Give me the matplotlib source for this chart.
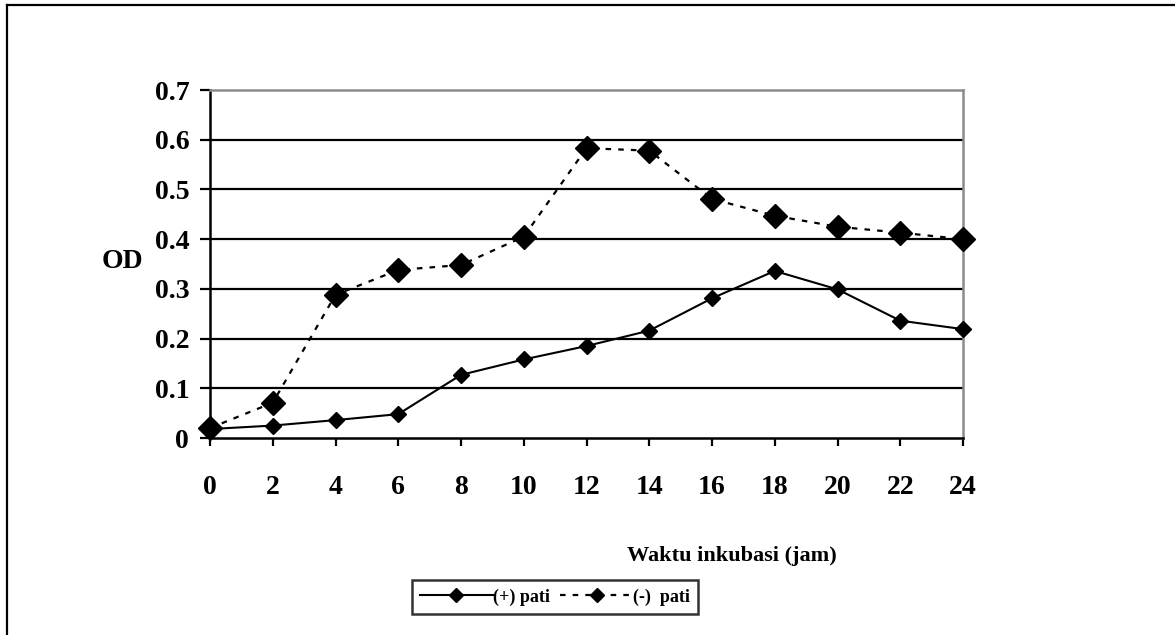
import matplotlib
matplotlib.use("Agg")
import matplotlib.pyplot as plt
from matplotlib.lines import Line2D

# Data
waktu = [0, 2, 4, 6, 8, 10, 12, 14, 16, 18, 20, 22, 24]
pati_plus = [0.018, 0.025, 0.036, 0.048, 0.127, 0.158, 0.185, 0.216, 0.281, 0.336, 0.299, 0.236, 0.219]
pati_minus = [0.020, 0.071, 0.288, 0.338, 0.348, 0.405, 0.583, 0.578, 0.481, 0.447, 0.425, 0.413, 0.400]
label_plus = "(+) pati"
label_minus = "(-)  pati"
yticks = [0, 0.1, 0.2, 0.3, 0.4, 0.5, 0.6, 0.7]
ytick_labels = ["0", "0.1", "0.2", "0.3", "0.4", "0.5", "0.6", "0.7"]
xticks = waktu

plt.rcParams['font.family'] = ['Liberation Serif', 'DejaVu Serif']
plt.rcParams['font.weight'] = 'bold'

fig = plt.figure(figsize=(11.75, 6.35), dpi=100)
ax = fig.add_axes([210/1175, 1 - 438/635, (963 - 210)/1175, (438 - 90)/635])

for y in yticks[1:-1]:
    ax.axhline(y, color='black', lw=1.6, zorder=1)

ax.plot(waktu, pati_plus, color='black', lw=1.5, marker='D', markersize=8.5,
        zorder=3, clip_on=False, label=label_plus)
ax.plot(waktu, pati_minus, color='black', lw=1.6, linestyle=(0, (2.5, 3.2)),
        marker='D', markersize=12, zorder=3, clip_on=False, label=label_minus)

ax.set_xlim(0, 24)
ax.set_ylim(0, 0.7)
ax.set_xticks(xticks)
ax.set_xticklabels([str(v) for v in xticks])
ax.set_yticks(yticks)
ax.set_yticklabels(ytick_labels)

for s in ['left', 'bottom']:
    ax.spines[s].set_color('black')
    ax.spines[s].set_linewidth(1.8)
for s in ['top', 'right']:
    ax.spines[s].set_color('#8c8c8c')
    ax.spines[s].set_linewidth(1.8)

ax.tick_params(axis='y', direction='out', length=7, width=1.6, pad=8,
               labelsize=20)
ax.tick_params(axis='x', direction='out', length=6, width=1.6, pad=21,
               labelsize=20)
for lab in ax.get_xticklabels() + ax.get_yticklabels():
    lab.set_fontweight('bold')

fig.text(122/1175, 1 - 262/635, "OD", fontsize=20, fontweight='bold',
         ha='center', va='center')
fig.text(732/1175, 1 - 556/635, "Waktu inkubasi (jam)", fontsize=16,
         fontweight='bold', ha='center', va='center')

handles = [
    Line2D([], [], color='black', lw=1.5, marker='D', markersize=7.5),
    Line2D([], [], color='black', lw=1.6, linestyle=(0, (2.5, 3.2)), marker='D', markersize=7.5),
]
leg = fig.legend(handles, [label_plus, label_minus], loc='center',
                 bbox_to_anchor=(555/1175, 1 - 597/635), ncol=2,
                 prop={'family': ['Liberation Serif'], 'weight': 'bold', 'size': 13},
                 frameon=True, fancybox=False, edgecolor='black',
                 handlelength=4.0, handletextpad=0.0, columnspacing=0.6,
                 borderpad=0.45, borderaxespad=0)
leg.get_frame().set_linewidth(1.8)

# Outer frame (top and left edges visible)
fig.add_artist(Line2D([7/1175, 1.0], [1 - 5/635, 1 - 5/635], color='black', lw=1.6,
                      transform=fig.transFigure))
fig.add_artist(Line2D([7/1175, 7/1175], [0.0, 1 - 5/635], color='black', lw=1.6,
                      transform=fig.transFigure))

fig.savefig("out.png", dpi=100)
